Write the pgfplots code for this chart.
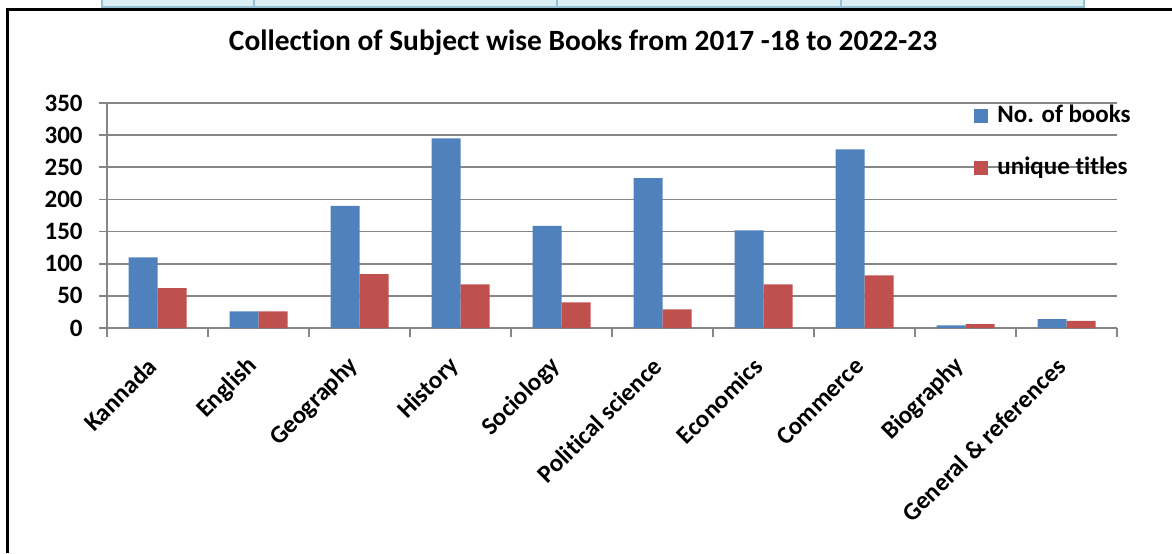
\documentclass[border=0pt]{standalone}
\usepackage{pgfplots}
\pgfplotsset{compat=1.18}
\usepackage{fontspec}
\setmainfont{Carlito}[Ligatures=NoCommon]
\definecolor{cblue}{HTML}{4F81BD}
\definecolor{cred}{HTML}{C0504D}
\definecolor{cgrid}{HTML}{868686}
\definecolor{tfill}{HTML}{DBEEF4}
\definecolor{tline}{HTML}{93C1D3}
\begin{document}
\begin{tikzpicture}
\path[use as bounding box] (0,0) rectangle (586pt,-276.5pt);
% cut-off table strip at the top
\fill[tfill] (51pt,0pt) rectangle (542pt,-3.5pt);
\draw[tline,line width=0.8pt] (51pt,0pt) -- (51pt,-3.5pt) -- (542pt,-3.5pt) -- (542pt,0pt);
\foreach \xx in {127pt,278.5pt,420.5pt} \draw[tline,line width=0.8pt] (\xx,0pt) -- (\xx,-3.5pt);
% chart border
\draw[black,line width=1.3pt] (3.6pt,-276.5pt) -- (3.6pt,-4.6pt) -- (586pt,-4.6pt);
\node[font=\bfseries\fontsize{14.7}{17}\selectfont] at (291.5pt,-21.5pt) {Collection of Subject wise Books from 2017 -18 to 2022-23};
\begin{axis}[
  at={(53.5pt,-164pt)}, anchor=south west,
  scale only axis, width=505pt, height=112.5pt,
  ybar=0pt, bar width=14.5pt,
  xmin=-0.5, xmax=9.5, ymin=0, ymax=350,
  xtick={0,...,9},
  xticklabels={Kannada,English,Geography,History,Sociology,Political science,Economics,Commerce,Biography,General \& references},
  minor xtick={-0.5,0.5,...,9.5},
  ytick={0,50,...,350},
  ymajorgrids, major grid style={cgrid,line width=0.8pt},
  axis line style={cgrid,line width=0.8pt},
  axis x line*=bottom, axis y line*=left,
  tick style={cgrid,line width=0.8pt},
  tick align=outside,
  xtick style={draw=none},
  minor x tick style={draw=cgrid,line width=0.8pt},
  minor tick length=4.5pt,
  major tick length=4pt,
  ticklabel style={font=\bfseries\fontsize{12.5}{14}\selectfont},
  /pgf/number format/assume math mode=true,
  yticklabel style={anchor=east,inner sep=0pt,xshift=-8pt},
  xticklabel style={anchor=east,inner sep=0pt,xshift=-2.5pt,yshift=-13pt,rotate=45},
  legend style={at={(0.8525,1.013)},anchor=north west,draw=none,fill=none,
    font=\bfseries\fontsize{12.5}{14}\selectfont,row sep=14pt,
    nodes={inner sep=0pt,text height=9pt,text depth=3pt}},
  legend cell align=left,
  legend image code/.code={\fill[#1] (0pt,-3.5pt) rectangle (7pt,3.5pt);},
  /tikz/every odd column/.append style={column sep=4.5pt},
]
\addplot[fill=cblue,draw=none] coordinates {(0,110) (1,26) (2,190) (3,295) (4,159) (5,233) (6,152) (7,278) (8,4) (9,14)};
\addplot[fill=cred,draw=none] coordinates {(0,62) (1,26) (2,84) (3,68) (4,40) (5,29) (6,68) (7,82) (8,6) (9,11)};
\addlegendentry{No. of books}
\addlegendentry{unique titles}
\end{axis}
\end{tikzpicture}
\end{document}
